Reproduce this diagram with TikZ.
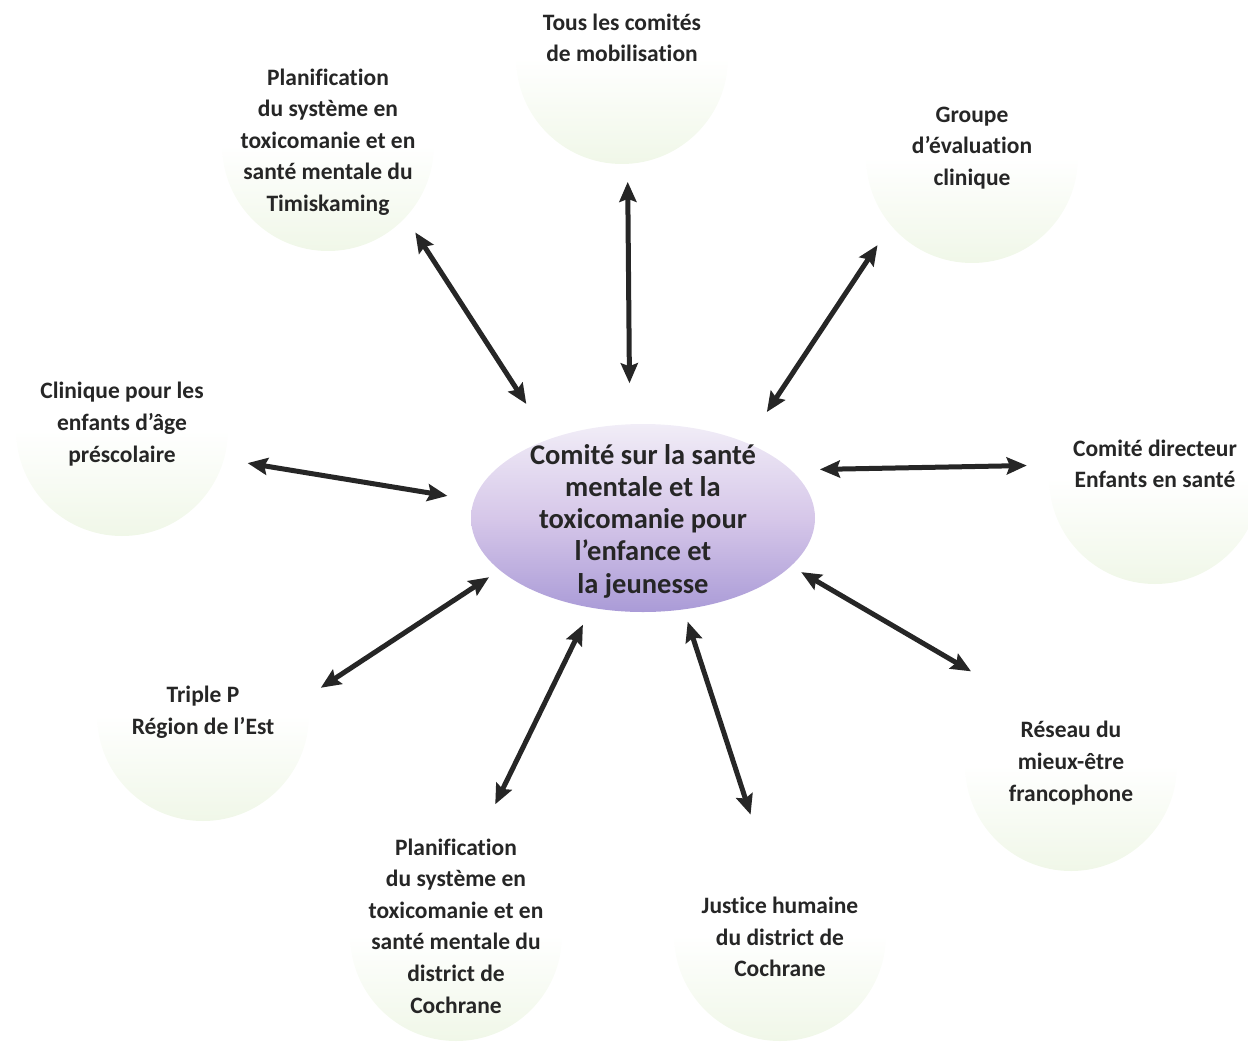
\documentclass[tikz,border=0pt]{standalone}
\usepackage{fontspec}
\setmainfont{Carlito}[Ligatures={NoCommon,NoRare,NoContextual}]
\usepackage{tikz}
\usetikzlibrary{shapes.geometric,arrows.meta}

\definecolor{halogreen}{RGB}{240,247,232}
\definecolor{hubtop}{RGB}{241,237,247}
\definecolor{hubmid}{RGB}{214,199,233}
\definecolor{hubbot}{RGB}{170,155,215}
\definecolor{ink}{RGB}{38,38,38}

\tikzset{
  halo/.style={circle, minimum size=212pt, inner sep=0pt, outer sep=0pt,
    top color=white, bottom color=halogreen, middle color=white},
  hubnode/.style={ellipse, minimum width=344pt, minimum height=188pt,
    inner sep=0pt, outer sep=0pt,
    top color=hubtop, bottom color=hubbot, middle color=hubmid},
  lbl/.style={align=center, text=ink,
    font=\bfseries\fontsize{23.5}{31.6}\selectfont},
  hublbl/.style={align=center, text=ink,
    font=\bfseries\fontsize{28.5}{32.3}\selectfont},
  link/.style={draw=ink, line width=5pt,
    {Stealth[length=20pt,width=17pt,inset=3pt]}-{Stealth[length=20pt,width=17pt,inset=3pt]}}
}

\begin{document}
\begin{tikzpicture}[x=1pt, y=-1pt]
\useasboundingbox (0,0) rectangle (1248,1042);

% partner circles around the committee
\foreach \n/\cx/\cy/\ty/\t in {
  mob/622/58/38/{Tous les comités\\de mobilisation},
  timis/328/145/142/{Planification\\du système en\\toxicomanie et en\\santé mentale du\\Timiskaming},
  groupe/972/157/148/{Groupe\\d’évaluation\\clinique},
  direct/1155/478/464/{Comité directeur\\Enfants en santé},
  reseau/1071/765/763/{Réseau du\\mieux-être\\francophone},
  justice/780/935/937/{Justice humaine\\du district de\\Cochrane},
  cochrane/456/935/926/{Planification\\du système en\\toxicomanie et en\\santé mentale du\\district de\\Cochrane},
  triple/203/715/712/{Triple P\\Région de l’Est},
  clinique/122/430/424/{Clinique pour les\\enfants d’âge\\préscolaire}}
{
  \node[halo] (\n) at (\cx,\cy) {};
  \node[lbl] (\n-txt) at (\cx,\ty) {\t};
}

% the committee in the middle
\node[hubnode] (hub) at (643,518) {};
\node[hublbl] (hub-txt) at (643,521) {Comité sur la santé\\mentale et la\\toxicomanie pour\\l’enfance et\\la jeunesse};

% two-way links
\foreach \n/\a/\s/\b/\e in {
  mob/-87/18/98/41,
  timis/-43/18/140/42,
  groupe/-140/24/36/37,
  direct/173/23/18/29,
  reseau/133/32/-18.5/12,
  justice/103/18/-66/13,
  cochrane/76/31/-120/19,
  triple/10/16/-160/13,
  clinique/-16/24/174/27}
  \draw[link, shorten <=\s pt, shorten >=\e pt] (\n.\a) -- (hub.\b);
\end{tikzpicture}
\end{document}
